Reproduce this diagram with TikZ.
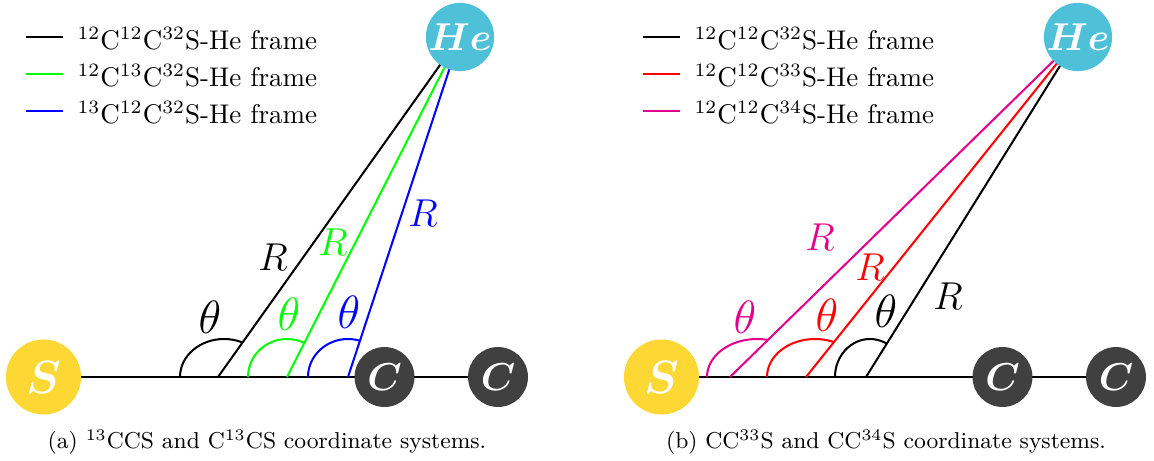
\documentclass[tikz,border=0pt]{standalone}
\usepackage{bm}
\usetikzlibrary{calc,backgrounds}
\definecolor{sYellow}{RGB}{253,216,53}
\definecolor{heCyan}{RGB}{78,192,216}
\definecolor{cDark}{RGB}{64,64,64}
\definecolor{gLine}{RGB}{0,255,0}
\definecolor{bLine}{RGB}{0,0,255}
\definecolor{rLine}{RGB}{255,0,0}
\definecolor{mLine}{RGB}{228,0,140}
\tikzset{
  atom/.style={circle, inner sep=0pt, text=white},
  satom/.style={atom, fill=sYellow, minimum size=27.8pt, font=\fontsize{18}{20}\selectfont},
  catom/.style={atom, fill=cDark, minimum size=22.2pt, font=\fontsize{15}{18}\selectfont},
  heatom/.style={atom, fill=heCyan, minimum size=25.2pt, font=\fontsize{13.5}{16}\selectfont},
  bond/.style={line width=1.05pt},
  frameline/.style={line width=0.75pt},
  lbl/.style={font=\Large, inner sep=0pt},
  thlbl/.style={font=\fontsize{16}{18}\selectfont, inner sep=0pt},
  legline/.style={line width=1.05pt},
  legtext/.style={anchor=base west, inner sep=0pt, font=\normalsize},
  captext/.style={anchor=base, inner sep=0pt, font=\fontsize{8.5}{10}\selectfont}
}
\newcommand\myarc[4]{%
  \begin{scope}
    \clip ($(#2)+(0,-6)$) -- (#2) -- (#3.center) -- (#3.center -| O) -- (O) -- cycle;
    \draw[frameline, #1] ({#4},83) arc[start angle=180, end angle=0, x radius={\arcxr}, y radius=38];
  \end{scope}}
\begin{document}
\begin{tikzpicture}[x=0.37037pt, y=0.37037pt]
\useasboundingbox (0,0) rectangle (1154,460);
\coordinate (O) at (0,0);
% ---------- panel (a) ----------
\node[satom] (Sa) at (43.5,83) {$\bm{S}$};
\node[catom] (C1a) at (384.5,83) {$\bm{C}$};
\node[catom] (C2a) at (498,83) {$\bm{C}$};
\node[heatom] (Hea) at (460,423) {$\bm{He}$};
\coordinate (kA) at (218,83);
\coordinate (gA) at (287,83);
\coordinate (bA) at (348,83);
% ---------- panel (b) ----------
\node[satom] (Sb) at (661.5,83) {$\bm{S}$};
\node[catom] (C1b) at (1002.5,83) {$\bm{C}$};
\node[catom] (C2b) at (1116,83) {$\bm{C}$};
\node[heatom] (Heb) at (1078,423) {$\bm{He}$};
\coordinate (mB) at (730,83);
\coordinate (rB) at (806,83);
\coordinate (kB) at (866,83);
\begin{scope}[on background layer]
  \draw[bond] (Sa.center) -- (C2a.center);
  \draw[bond] (Sb.center) -- (C2b.center);
  \draw[frameline, black] (kA) -- (Hea.center);
  \draw[frameline, gLine] (gA) -- (Hea.center);
  \draw[frameline, bLine] (bA) -- (Hea.center);
  \draw[frameline, mLine] (mB) -- (Heb.center);
  \draw[frameline, rLine] (rB) -- (Heb.center);
  \draw[frameline, black] (kB) -- (Heb.center);
\end{scope}
% angle arcs
\def\arcxr{44}\myarc{black}{kA}{Hea}{180}
\def\arcxr{39}\myarc{gLine}{gA}{Hea}{248}
\def\arcxr{40}\myarc{bLine}{bA}{Hea}{308}
\def\arcxr{50}\myarc{mLine}{mB}{Heb}{707}
\def\arcxr{48}\myarc{rLine}{rB}{Heb}{767}
\def\arcxr{35}\myarc{black}{kB}{Heb}{835}
% labels (a)
\node[thlbl, text=black] (tka) at (210,143) {$\theta$};
\node[thlbl, text=gLine] (tga) at (289,146) {$\theta$};
\node[thlbl, text=bLine] (tba) at (349,148) {$\theta$};
\node[lbl, text=black] (Rka) at (273,203) {$R$};
\node[lbl, text=gLine] (Rga) at (333,218) {$R$};
\node[lbl, text=bLine] (Rba) at (423,247) {$R$};
% labels (b)
\node[thlbl, text=mLine] (tmb) at (745,143) {$\theta$};
\node[thlbl, text=rLine] (trb) at (827,145) {$\theta$};
\node[thlbl, text=black] (tkb) at (886,149) {$\theta$};
\node[lbl, text=mLine] (Rmb) at (820,223) {$R$};
\node[lbl, text=rLine] (Rrb) at (870,193) {$R$};
\node[lbl, text=black] (Rkb) at (948,164) {$R$};
% legend (a)
\coordinate (la1s) at (26,423); \coordinate (la1e) at (63,423);
\coordinate (la2s) at (26,386); \coordinate (la2e) at (63,386);
\coordinate (la3s) at (26,349); \coordinate (la3e) at (63,349);
\draw[legline, black] (la1s) -- (la1e);
\draw[legline, gLine] (la2s) -- (la2e);
\draw[legline, bLine] (la3s) -- (la3e);
\node[legtext] (lta1) at (77,411) {$^{12}$C$^{12}$C$^{32}$S-He frame};
\node[legtext] (lta2) at (77,374) {$^{12}$C$^{13}$C$^{32}$S-He frame};
\node[legtext] (lta3) at (77,337) {$^{13}$C$^{12}$C$^{32}$S-He frame};
% legend (b)
\coordinate (lb1s) at (643,423); \coordinate (lb1e) at (680,423);
\coordinate (lb2s) at (643,386); \coordinate (lb2e) at (680,386);
\coordinate (lb3s) at (643,349); \coordinate (lb3e) at (680,349);
\draw[legline, black] (lb1s) -- (lb1e);
\draw[legline, rLine] (lb2s) -- (lb2e);
\draw[legline, mLine] (lb3s) -- (lb3e);
\node[legtext] (ltb1) at (694,411) {$^{12}$C$^{12}$C$^{32}$S-He frame};
\node[legtext] (ltb2) at (694,374) {$^{12}$C$^{12}$C$^{33}$S-He frame};
\node[legtext] (ltb3) at (694,337) {$^{12}$C$^{12}$C$^{34}$S-He frame};
% captions
\node[captext] (capa) at (267,12) {(a) $^{13}$CCS and C$^{13}$CS coordinate systems.};
\node[captext] (capb) at (886,12) {(b) CC$^{33}$S and CC$^{34}$S coordinate systems.};
\end{tikzpicture}
\end{document}
